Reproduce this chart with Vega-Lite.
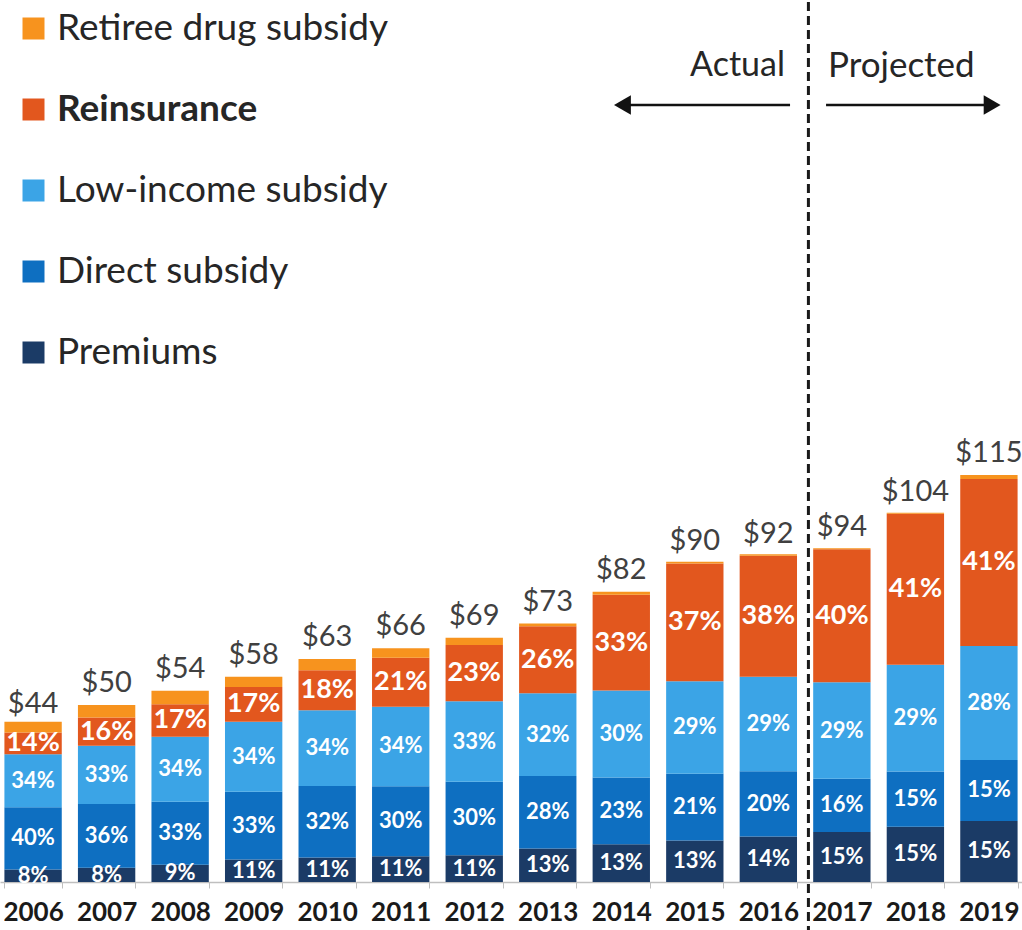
{
  "$schema": "https://vega.github.io/schema/vega-lite/v6.json",
  "width": 1022,
  "height": 880,
  "padding": 0,
  "background": "white",
  "config": {"view": {"stroke": null}, "font": "Lato"},
  "datasets": {
    "parts": [
      {"year": "2006", "component": "Premiums", "k": 1, "value": 3.52, "label": "8%"},
      {"year": "2006", "component": "Direct subsidy", "k": 2, "value": 17.6, "label": "40%"},
      {"year": "2006", "component": "Low-income subsidy", "k": 3, "value": 14.96, "label": "34%"},
      {"year": "2006", "component": "Reinsurance", "k": 4, "value": 6.16, "label": "14%"},
      {"year": "2006", "component": "Retiree drug subsidy", "k": 5, "value": 3.0, "label": ""},
      {"year": "2007", "component": "Premiums", "k": 1, "value": 4.0, "label": "8%"},
      {"year": "2007", "component": "Direct subsidy", "k": 2, "value": 18.0, "label": "36%"},
      {"year": "2007", "component": "Low-income subsidy", "k": 3, "value": 16.5, "label": "33%"},
      {"year": "2007", "component": "Reinsurance", "k": 4, "value": 8.0, "label": "16%"},
      {"year": "2007", "component": "Retiree drug subsidy", "k": 5, "value": 3.5, "label": ""},
      {"year": "2008", "component": "Premiums", "k": 1, "value": 4.86, "label": "9%"},
      {"year": "2008", "component": "Direct subsidy", "k": 2, "value": 17.82, "label": "33%"},
      {"year": "2008", "component": "Low-income subsidy", "k": 3, "value": 18.36, "label": "34%"},
      {"year": "2008", "component": "Reinsurance", "k": 4, "value": 9.18, "label": "17%"},
      {"year": "2008", "component": "Retiree drug subsidy", "k": 5, "value": 3.78, "label": ""},
      {"year": "2009", "component": "Premiums", "k": 1, "value": 6.38, "label": "11%"},
      {"year": "2009", "component": "Direct subsidy", "k": 2, "value": 19.14, "label": "33%"},
      {"year": "2009", "component": "Low-income subsidy", "k": 3, "value": 19.72, "label": "34%"},
      {"year": "2009", "component": "Reinsurance", "k": 4, "value": 9.86, "label": "17%"},
      {"year": "2009", "component": "Retiree drug subsidy", "k": 5, "value": 2.9, "label": ""},
      {"year": "2010", "component": "Premiums", "k": 1, "value": 6.93, "label": "11%"},
      {"year": "2010", "component": "Direct subsidy", "k": 2, "value": 20.16, "label": "32%"},
      {"year": "2010", "component": "Low-income subsidy", "k": 3, "value": 21.42, "label": "34%"},
      {"year": "2010", "component": "Reinsurance", "k": 4, "value": 11.34, "label": "18%"},
      {"year": "2010", "component": "Retiree drug subsidy", "k": 5, "value": 3.15, "label": ""},
      {"year": "2011", "component": "Premiums", "k": 1, "value": 7.26, "label": "11%"},
      {"year": "2011", "component": "Direct subsidy", "k": 2, "value": 19.8, "label": "30%"},
      {"year": "2011", "component": "Low-income subsidy", "k": 3, "value": 22.44, "label": "34%"},
      {"year": "2011", "component": "Reinsurance", "k": 4, "value": 13.86, "label": "21%"},
      {"year": "2011", "component": "Retiree drug subsidy", "k": 5, "value": 2.64, "label": ""},
      {"year": "2012", "component": "Premiums", "k": 1, "value": 7.59, "label": "11%"},
      {"year": "2012", "component": "Direct subsidy", "k": 2, "value": 20.7, "label": "30%"},
      {"year": "2012", "component": "Low-income subsidy", "k": 3, "value": 22.77, "label": "33%"},
      {"year": "2012", "component": "Reinsurance", "k": 4, "value": 15.87, "label": "23%"},
      {"year": "2012", "component": "Retiree drug subsidy", "k": 5, "value": 2.07, "label": ""},
      {"year": "2013", "component": "Premiums", "k": 1, "value": 9.49, "label": "13%"},
      {"year": "2013", "component": "Direct subsidy", "k": 2, "value": 20.44, "label": "28%"},
      {"year": "2013", "component": "Low-income subsidy", "k": 3, "value": 23.36, "label": "32%"},
      {"year": "2013", "component": "Reinsurance", "k": 4, "value": 18.98, "label": "26%"},
      {"year": "2013", "component": "Retiree drug subsidy", "k": 5, "value": 0.73, "label": ""},
      {"year": "2014", "component": "Premiums", "k": 1, "value": 10.66, "label": "13%"},
      {"year": "2014", "component": "Direct subsidy", "k": 2, "value": 18.86, "label": "23%"},
      {"year": "2014", "component": "Low-income subsidy", "k": 3, "value": 24.6, "label": "30%"},
      {"year": "2014", "component": "Reinsurance", "k": 4, "value": 27.06, "label": "33%"},
      {"year": "2014", "component": "Retiree drug subsidy", "k": 5, "value": 0.82, "label": ""},
      {"year": "2015", "component": "Premiums", "k": 1, "value": 11.7, "label": "13%"},
      {"year": "2015", "component": "Direct subsidy", "k": 2, "value": 18.9, "label": "21%"},
      {"year": "2015", "component": "Low-income subsidy", "k": 3, "value": 26.1, "label": "29%"},
      {"year": "2015", "component": "Reinsurance", "k": 4, "value": 33.3, "label": "37%"},
      {"year": "2015", "component": "Retiree drug subsidy", "k": 5, "value": 0.45, "label": ""},
      {"year": "2016", "component": "Premiums", "k": 1, "value": 12.88, "label": "14%"},
      {"year": "2016", "component": "Direct subsidy", "k": 2, "value": 18.4, "label": "20%"},
      {"year": "2016", "component": "Low-income subsidy", "k": 3, "value": 26.68, "label": "29%"},
      {"year": "2016", "component": "Reinsurance", "k": 4, "value": 34.2, "label": "38%"},
      {"year": "2016", "component": "Retiree drug subsidy", "k": 5, "value": 0.4, "label": ""},
      {"year": "2017", "component": "Premiums", "k": 1, "value": 14.1, "label": "15%"},
      {"year": "2017", "component": "Direct subsidy", "k": 2, "value": 15.04, "label": "16%"},
      {"year": "2017", "component": "Low-income subsidy", "k": 3, "value": 27.26, "label": "29%"},
      {"year": "2017", "component": "Reinsurance", "k": 4, "value": 37.6, "label": "40%"},
      {"year": "2017", "component": "Retiree drug subsidy", "k": 5, "value": 0.3, "label": ""},
      {"year": "2018", "component": "Premiums", "k": 1, "value": 15.6, "label": "15%"},
      {"year": "2018", "component": "Direct subsidy", "k": 2, "value": 15.6, "label": "15%"},
      {"year": "2018", "component": "Low-income subsidy", "k": 3, "value": 30.16, "label": "29%"},
      {"year": "2018", "component": "Reinsurance", "k": 4, "value": 42.64, "label": "41%"},
      {"year": "2018", "component": "Retiree drug subsidy", "k": 5, "value": 0.3, "label": ""},
      {"year": "2019", "component": "Premiums", "k": 1, "value": 17.25, "label": "15%"},
      {"year": "2019", "component": "Direct subsidy", "k": 2, "value": 17.25, "label": "15%"},
      {"year": "2019", "component": "Low-income subsidy", "k": 3, "value": 32.2, "label": "28%"},
      {"year": "2019", "component": "Reinsurance", "k": 4, "value": 47.15, "label": "41%"},
      {"year": "2019", "component": "Retiree drug subsidy", "k": 5, "value": 1.15, "label": ""}
    ],
    "totals": [
      {"year": "2006", "total": 44},
      {"year": "2007", "total": 50},
      {"year": "2008", "total": 54},
      {"year": "2009", "total": 58},
      {"year": "2010", "total": 63},
      {"year": "2011", "total": 66},
      {"year": "2012", "total": 69},
      {"year": "2013", "total": 73},
      {"year": "2014", "total": 82},
      {"year": "2015", "total": 90},
      {"year": "2016", "total": 92},
      {"year": "2017", "total": 94},
      {"year": "2018", "total": 104},
      {"year": "2019", "total": 115}
    ]
  },
  "layer": [
    {
      "layer": [
        {
          "data": {"name": "parts"},
          "mark": {"type": "bar"},
          "encoding": {
            "x": {
              "field": "year", "type": "ordinal",
              "scale": {"paddingInner": 0.22, "paddingOuter": 0.06},
              "axis": {
                "title": null, "labelAngle": 0, "labelFontSize": 26, "labelFontWeight": "bold",
                "labelColor": "#1a1a1a", "domainColor": "#bfbfbf", "domainWidth": 1.5,
                "tickColor": "#bfbfbf", "tickSize": 6, "tickBand": "extent", "labelPadding": 11
              }
            },
            "y": {
              "field": "value", "type": "quantitative", "stack": "zero",
              "scale": {"domain": [0, 248.6], "nice": false}, "axis": null
            },
            "color": {
              "field": "component", "type": "nominal",
              "scale": {
                "domain": ["Retiree drug subsidy", "Reinsurance", "Low-income subsidy", "Direct subsidy", "Premiums"],
                "range": ["#f7931e", "#e2571e", "#3ba4e6", "#0e6fc1", "#1b3b66"]
              },
              "legend": {
                "title": null, "orient": "none", "legendX": 15, "legendY": 8,
                "symbolType": "square", "symbolSize": 484, "symbolStrokeWidth": 0,
                "labelFontSize": 37, "labelColor": "#262626", "labelOffset": 5,
                "rowPadding": 43, "padding": 0, "labelLimit": 600,
                "labelFontWeight": {"expr": "datum.value === 'Reinsurance' ? 'bold' : 'normal'"}
              }
            },
            "order": {"field": "k", "type": "quantitative"}
          }
        },
        {
          "data": {"name": "parts"},
          "transform": [{"filter": "datum.label != ''"}],
          "mark": {"type": "text", "color": "white", "fontWeight": "bold", "baseline": "middle"},
          "encoding": {
            "x": {"field": "year", "type": "ordinal"},
            "y": {"field": "value", "type": "quantitative", "stack": "zero", "bandPosition": 0.5},
            "detail": {"field": "component"},
            "order": {"field": "k", "type": "quantitative"},
            "text": {"field": "label"},
            "size": {"condition": {"test": "datum.component === 'Reinsurance'", "value": 27}, "value": 22}
          }
        },
        {
          "data": {"name": "totals"},
          "mark": {"type": "text", "fontSize": 29, "color": "#404040", "baseline": "alphabetic", "dy": -13},
          "encoding": {
            "x": {"field": "year", "type": "ordinal"},
            "y": {"field": "total", "type": "quantitative"},
            "text": {"field": "total", "format": "$.0f"}
          }
        }
      ]
    },
    {
      "data": {"values": [{}]},
      "layer": [
        {
          "mark": {"type": "rule", "strokeDash": [9, 5], "strokeWidth": 3, "color": "#1a1a1a"},
          "encoding": {
            "x": {"datum": 2016.55, "type": "quantitative", "scale": {"domain": [2005.551, 2019.456], "nice": false, "zero": false}, "axis": null},
            "y": {"datum": 248.6, "type": "quantitative", "scale": {"domain": [0, 248.6], "nice": false}, "axis": null},
            "y2": {"datum": -14.1}
          }
        },
        {
          "mark": {"type": "rule", "strokeWidth": 2.5, "color": "#111111"},
          "encoding": {
            "x": {"datum": 2014.0, "type": "quantitative"},
            "x2": {"datum": 2016.30},
            "y": {"datum": 219.5, "type": "quantitative"}
          }
        },
        {
          "mark": {"type": "rule", "strokeWidth": 2.5, "color": "#111111"},
          "encoding": {
            "x": {"datum": 2016.79, "type": "quantitative"},
            "x2": {"datum": 2019.07},
            "y": {"datum": 219.5, "type": "quantitative"}
          }
        },
        {
          "mark": {"type": "point", "shape": "triangle-left", "filled": true, "size": 380, "color": "#111111", "opacity": 1},
          "encoding": {
            "x": {"datum": 2014.02, "type": "quantitative"},
            "y": {"datum": 219.5, "type": "quantitative"}
          }
        },
        {
          "mark": {"type": "point", "shape": "triangle-right", "filled": true, "size": 380, "color": "#111111", "opacity": 1},
          "encoding": {
            "x": {"datum": 2019.05, "type": "quantitative"},
            "y": {"datum": 219.5, "type": "quantitative"}
          }
        },
        {
          "mark": {"type": "text", "align": "right", "baseline": "middle", "fontSize": 34, "color": "#262626"},
          "encoding": {
            "x": {"datum": 2016.231, "type": "quantitative"},
            "y": {"datum": 230.5, "type": "quantitative"},
            "text": {"value": "Actual"}
          }
        },
        {
          "mark": {"type": "text", "align": "left", "baseline": "middle", "fontSize": 35, "color": "#262626"},
          "encoding": {
            "x": {"datum": 2016.816, "type": "quantitative"},
            "y": {"datum": 230.5, "type": "quantitative"},
            "text": {"value": "Projected"}
          }
        }
      ]
    }
  ],
  "resolve": {"scale": {"x": "independent"}}
}
